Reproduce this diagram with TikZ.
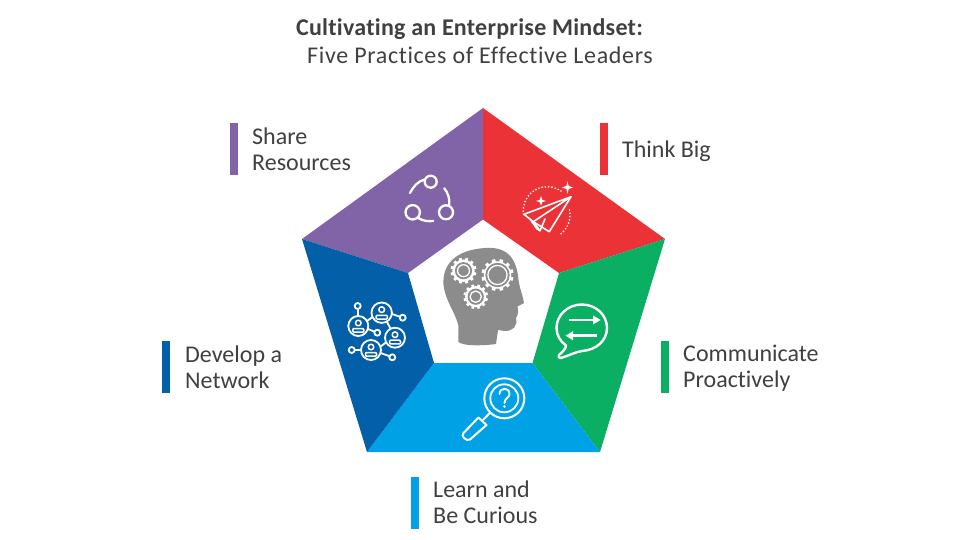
\documentclass[tikz,border=0pt]{standalone}
\usepackage{fontspec}
\setmainfont[Ligatures=NoCommon]{Carlito}
\definecolor{cpurple}{HTML}{8064A7}
\definecolor{cred}{HTML}{EA3237}
\definecolor{cgreen}{HTML}{0BAF63}
\definecolor{ccyan}{HTML}{00A2E5}
\definecolor{cblue}{HTML}{0360A8}
\definecolor{cgray}{HTML}{8C8C8C}
\definecolor{ctext}{HTML}{404040}
\tikzset{
 seg/.style={draw=none},
 lab/.style={font=\fontsize{24}{25.7}\selectfont,text=ctext,anchor=west,align=left,inner sep=0pt},
 bar/.style={draw=none},
 ic/.style={draw=white,line width=2.3pt,line cap=round,line join=round,fill=none},
 thin/.style={draw=white,line width=1.6pt,line cap=round,line join=round,fill=none},
 net/.style={draw=white,line width=1.8pt,line cap=round,line join=round,fill=none},
 dots/.style={white,line width=1.9pt,dash pattern=on 0pt off 3.3pt,line cap=round},
}
\newcommand{\gear}[5]{% x y r disc ring
 \fill[white] (#1,#2) circle (#3*0.86);
 \foreach \a in {0,30,...,330}{
  \fill[white,shift={(#1,#2)},rotate=\a+15] (-#3*0.11,0) rectangle (#3*0.11,#3);
 }
 \fill[cgray] (#1,#2) circle (#3*#4);
 \draw[white,line width=1.3pt] (#1,#2) circle (#3*#5);
}
\newcommand{\person}[3]{% x y r
 \draw[net] (#1,#2) circle (#3);
 \draw[net,line width=1.5pt] (#1,#2-#3*0.30) circle (#3*0.28);
 \draw[net,line width=1.5pt,rounded corners=1pt] (#1-#3*0.55,#2+#3*0.25) rectangle (#1+#3*0.55,#2+#3*0.62);
}
\begin{document}
\begin{tikzpicture}[x=1pt,y=-1pt]
\useasboundingbox (0,0) rectangle (960,540);
\coordinate (oT) at (483,108);
\coordinate (oR) at (665,239);
\coordinate (oBR) at (600,452);
\coordinate (oBL) at (367,452);
\coordinate (oL) at (302,239);
\coordinate (iT) at (483,219.5);
\coordinate (iR) at (559,273);
\coordinate (iBR) at (532.5,363);
\coordinate (iBL) at (434,363);
\coordinate (iL) at (408,273);
\fill[cpurple,seg] (oL)--(oT)--(iT)--(iL)--cycle;
\fill[cred,seg] (oT)--(oR)--(iR)--(iT)--cycle;
\fill[cgreen,seg] (oR)--(oBR)--(iBR)--(iR)--cycle;
\fill[ccyan,seg] (oBR)--(oBL)--(iBL)--(iBR)--cycle;
\fill[cblue,seg] (oBL)--(oL)--(iL)--(iBL)--cycle;

% title
\node[font=\fontsize{24}{26}\selectfont\bfseries,text=ctext,inner sep=0pt] (t1) at (469.5,29) {\addfontfeatures{LetterSpace=1.1}Cultivating an Enterprise Mindset:};
\node[font=\fontsize{24}{26}\selectfont,text=ctext,inner sep=0pt] (t2) at (480,55) {\addfontfeatures{LetterSpace=2.7}Five Practices of Effective Leaders};

% labels
\fill[cpurple,bar] (230,123) rectangle (238,175);
\node[lab] (l1) at (252,149) {Share\\Resources};
\fill[cred,bar] (600,123) rectangle (608,175);
\node[lab] (l2) at (622,151) {Think Big};
\fill[cgreen,bar] (661,341) rectangle (669,393);
\node[lab] (l3) at (683,368) {Communicate\\Proactively};
\fill[ccyan,bar] (411,477) rectangle (419,529);
\node[lab] (l4) at (433,502.5) {Learn and\\Be Curious};
\fill[cblue,bar] (162,341) rectangle (170,393);
\node[lab] (l5) at (185,367) {Develop a\\Network};

% head
\fill[cgray] (458.3,341.7) -- (458.3,325) .. controls (455,312) and (445,300) .. (443.5,285)
 .. controls (442,265) and (455,250) .. (485,248) .. controls (510,246) and (517,262) .. (518.5,280)
 .. controls (520,290) and (523,296) .. (524,303) -- (517.5,306.5) .. controls (518,310) and (519,314) .. (516,318)
 .. controls (518,326) and (513,331) .. (505,331) -- (498,330) -- (496,344) .. controls (480,346) and (462,346) .. (458.3,341.7) -- cycle;
\gear{463.5}{270.7}{13}{0.66}{0.46}
\gear{497.5}{275}{16}{0.76}{0.60}
\gear{475.7}{296.7}{12.3}{0.66}{0.46}

% share icon
\draw[ic] (430.7,181.7) circle (6);
\draw[ic] (412.7,212.3) circle (7.2);
\draw[ic] (446,212.3) circle (7);
\draw[ic] (425,179.3) .. controls (418,181) and (413,187) .. (410,193);
\draw[ic] (444.3,188.3) .. controls (448,193) and (450,199) .. (449.3,205);
\draw[ic] (418.3,218) .. controls (423,221) and (428,221.5) .. (433.3,221);

% plane icon
\draw[dots] (561,191) arc (-55:-195:24);
\draw[dots] (569.5,210) arc (-12:58:24);
\draw[thin] (571,196.7) -- (524,214.3) -- (533.3,221.7) -- cycle;
\draw[thin] (571,196.7) -- (549.3,231.7) -- (533.3,221.7);
\draw[thin] (533.3,221.7) -- (540,230.7) -- (545,219);
\draw[thin] (530,219) -- (537,229) -- (540,230.7);
\fill[white] (567.5,181.5) -- (568.7,186) -- (573,187.5) -- (568.7,189) -- (567.5,193.5) -- (566.3,189) -- (562,187.5) -- (566.3,186) -- cycle;
\fill[white] (541,196) -- (542.2,199.8) -- (546,201) -- (542.2,202.2) -- (541,206) -- (539.8,202.2) -- (536,201) -- (539.8,199.8) -- cycle;

% chat icon
\draw[ic,line width=2.4pt] (581.7,304.5) .. controls (596,304.5) and (607,315) .. (607,328) .. controls (607,341) and (596,350) .. (582,351)
 .. controls (575,352) and (568,356) .. (561,358) .. controls (558.5,358.5) and (558,356.5) .. (559,355) .. controls (562,352) and (566,349) .. (566,345.5)
 .. controls (560,341) and (556.5,335) .. (556.5,328) .. controls (556.5,315) and (568,304.5) .. (581.7,304.5) -- cycle;
\draw[white,line width=2.5pt] (568.5,320) -- (595,320);
\fill[white] (593,315.5) -- (600.5,320) -- (593,324.5) -- cycle;
\draw[white,line width=2.5pt] (571,335.7) -- (596.7,335.7);
\fill[white] (573,331.2) -- (565.5,335.7) -- (573,340.2) -- cycle;

% magnifier
\draw[ic,line width=2pt] (504.3,398.3) circle (20);
\draw[ic,line width=1.8pt] (504.3,398.3) circle (14);
\draw[ic,line width=1.9pt] (499.5,394) .. controls (499.5,387) and (509.5,387) .. (509.5,394) .. controls (509.5,398) and (504.5,398) .. (504.5,403);
\fill[white] (504.5,406.5) circle (1.3);
\draw[ic,line width=2pt] (490,412.7) -- (483,420);
\draw[ic,line width=2pt] (478.5,417.5) -- (486.5,425) -- (470,439.5) .. controls (468,440.5) and (466,440) .. (464,438) .. controls (462,436) and (462.5,434.5) .. (463.5,433) -- cycle;

% network icon
\person{381.7}{312.7}{10.2}
\person{358.3}{326}{10}
\person{395}{337.7}{10}
\person{371}{350}{10}
\draw[net] (358,316) -- (358,309);
\draw[net] (357.7,306) circle (3);
\draw[net] (367,321) -- (372.5,317);
\draw[net] (392,314) -- (399.8,316.7);
\draw[net] (402.7,317.7) circle (3);
\draw[net] (368,329) -- (374.5,331.7);
\draw[net] (377.3,332.7) circle (3);
\draw[net] (387,322) -- (390.5,328.5);
\draw[net] (386,342.5) -- (380.5,346.5);
\draw[net] (361,350) -- (354.7,350);
\draw[net] (351.7,350) circle (3);
\draw[net] (380.5,353) -- (389.6,356.2);
\draw[net] (392.3,357.3) circle (3);
\end{tikzpicture}
\end{document}
